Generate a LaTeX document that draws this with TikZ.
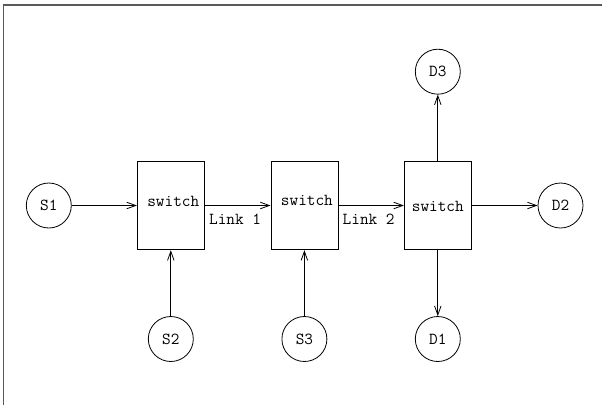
\documentclass[tikz,border=0pt]{standalone}
\usetikzlibrary{arrows.meta}

\begin{document}
\begin{tikzpicture}[x=1pt, y=-1pt, line width=0.8pt,
font=\ttfamily\fontsize{16.8}{19}\selectfont,
host/.style={draw, circle, minimum size=45pt, inner sep=0pt},
switchbox/.style={draw, rectangle, minimum width=67pt, minimum height=88.6pt, inner sep=0pt},
link/.style={-{Straight Barb[length=9pt,width=6.5pt]}},
frame/.style={draw=black!65, line width=1.4pt}]

\def\ymid{205.5}
\def\ylow{339}
\def\ytop{71.7}
\def\colA{170.8}
\def\colB{304.4}
\def\colC{437.8}

\useasboundingbox (0,0) rectangle (602,405);
\draw[frame] (3.7,405) -- (3.7,5) -- (602,5);

% switches
\node[switchbox, label={[xshift=2.5pt,yshift=4.5pt]center:switch}] (sw1) at (\colA,\ymid) {};
\node[switchbox, label={[xshift=2.5pt,yshift=5pt]center:switch}] (sw2) at (\colB,\ymid) {};
\node[switchbox, label={[yshift=-0.5pt]center:switch}] (sw3) at (\colC,\ymid) {};

% hosts
\node[host] (s1) at (48.8,\ymid) {S1};
\node[host] (s2) at (\colA,\ylow) {S2};
\node[host] (s3) at (\colB,\ylow) {S3};
\node[host] (d1) at (\colC,\ylow) {D1};
\node[host] (d2) at (560.5,\ymid) {D2};
\node[host] (d3) at (\colC,\ytop) {D3};

\node[anchor=west, inner sep=2pt] (link1) at ([xshift=2pt,yshift=-13.5pt]sw1.east) {Link 1};
\node[anchor=west, inner sep=2pt] (link2) at ([xshift=2pt,yshift=-13.5pt]sw2.east) {Link 2};

\draw[link] (s1) -- (sw1);
\draw[link] (sw1) -- (sw2);
\draw[link] (sw2) -- (sw3);
\draw[link] (sw3) -- (d2);
\draw[link] (sw3) -- (d3);
\draw[link] (sw3) -- (d1);
\draw[link] (s2) -- (sw1);
\draw[link] (s3) -- (sw2);

\end{tikzpicture}
\end{document}
